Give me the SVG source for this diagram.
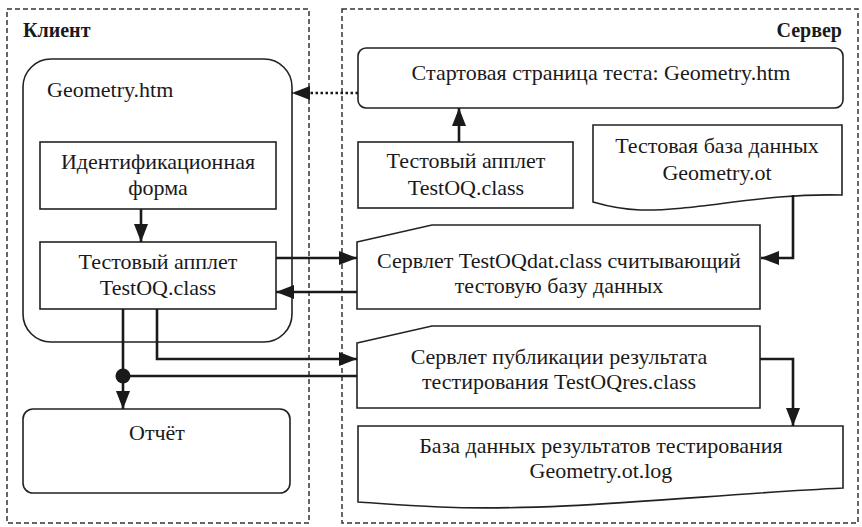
<svg xmlns="http://www.w3.org/2000/svg" width="862" height="527" viewBox="0 0 862 527" font-family="Liberation Serif, serif">
<style>
.area{fill:none;stroke:#333;stroke-width:1.5;stroke-dasharray:5,3}
.box{fill:#fff;stroke:#222;stroke-width:1.6}
.t{font-size:22px;fill:#1a1a1a;text-anchor:middle}
.s{text-anchor:start}
.h{font-size:20px;font-weight:bold;fill:#1a1a1a}
.e{text-anchor:end}
.c{fill:none;stroke:#1a1a1a;stroke-width:2.6}
</style>
<defs>
<marker id="ah" markerUnits="userSpaceOnUse" markerWidth="18" markerHeight="14" refX="18" refY="7" orient="auto">
<path d="M0,0 L18,7 L0,14 z" fill="#1a1a1a"/>
</marker>
</defs>
<rect width="862" height="527" fill="#fff"/>
<g id="client-area">
<rect class="area" x="7" y="9" width="302" height="514"/>
<text class="h" x="23" y="37" font-family="Liberation Serif, serif">Клиент</text>
</g>
<g id="server-area">
<rect class="area" x="342" y="9" width="516" height="514"/>
<text class="h e" x="842" y="37" font-family="Liberation Serif, serif">Сервер</text>
</g>
<g id="geometry-htm">
<rect class="box" x="23" y="59" width="269" height="283" rx="28"/>
<text class="t s" x="47" y="97" font-family="Liberation Serif, serif">Geometry.htm</text>
</g>
<g id="id-form" font-family="Liberation Serif, serif">
<rect class="box" x="40" y="142" width="236" height="67"/>
<text class="t" x="158" y="169">Идентификационная</text>
<text class="t" x="158" y="195">форма</text>
</g>
<g id="client-applet" font-family="Liberation Serif, serif">
<rect class="box" x="40" y="242" width="236" height="67"/>
<text class="t" x="158" y="269">Тестовый апплет</text>
<text class="t" x="158" y="295">TestOQ.class</text>
</g>
<g id="report" font-family="Liberation Serif, serif">
<rect class="box" x="23" y="409" width="267" height="84" rx="10"/>
<text class="t" x="157" y="440">Отчёт</text>
</g>
<g id="start-page" font-family="Liberation Serif, serif">
<rect class="box" x="358" y="48" width="485" height="60" rx="8"/>
<text class="t" x="601" y="80">Стартовая страница теста: Geometry.htm</text>
</g>
<g id="server-applet" font-family="Liberation Serif, serif">
<rect class="box" x="358" y="142" width="215" height="66"/>
<text class="t" x="466" y="168">Тестовый апплет</text>
<text class="t" x="466" y="195">TestOQ.class</text>
</g>
<g id="test-db" font-family="Liberation Serif, serif">
<path class="box" d="M593,125 L842,125 L842,195 C760,193 700,211 640,210 C615,209 600,204 593,202 Z"/>
<text class="t" x="717" y="153">Тестовая база данных</text>
<text class="t" x="717" y="180">Geometry.ot</text>
</g>
<g id="servlet-dat" font-family="Liberation Serif, serif">
<path class="box" d="M357,242 L432,225 L760,225 L760,309 L357,309 Z"/>
<text class="t" x="559" y="268">Сервлет TestOQdat.class считывающий</text>
<text class="t" x="559" y="293">тестовую базу данных</text>
</g>
<g id="servlet-res" font-family="Liberation Serif, serif">
<path class="box" d="M357,343 L432,326 L760,326 L760,408 L357,408 Z"/>
<text class="t" x="559" y="364">Сервлет публикации результата</text>
<text class="t" x="559" y="389">тестирования TestOQres.class</text>
</g>
<g id="result-db" font-family="Liberation Serif, serif">
<path class="box" d="M358,426 L843,426 L843,488 C700,495 560,512 440,507 C400,505 375,503 358,502 Z"/>
<text class="t" x="601" y="453">База данных результатов тестирования</text>
<text class="t" x="601" y="478">Geometry.ot.log</text>
</g>
<g id="connectors">
<path class="c" d="M358,93 L292,93" stroke-dasharray="2.5,2.5" marker-end="url(#ah)"/>
<path class="c" d="M459,142 L459,108" marker-end="url(#ah)"/>
<path class="c" d="M141,209 L141,242" marker-end="url(#ah)"/>
<path class="c" d="M793,195 L793,258 L761,258" marker-end="url(#ah)"/>
<path class="c" d="M276,258 L357,258" marker-end="url(#ah)"/>
<path class="c" d="M357,292 L276,292" marker-end="url(#ah)"/>
<path class="c" d="M157,309 L157,359 L357,359" marker-end="url(#ah)"/>
<path class="c" d="M357,376 L123,376"/>
<path class="c" d="M123,309 L123,409" marker-end="url(#ah)"/>
<circle cx="123" cy="376" r="7.5" fill="#1a1a1a"/>
<path class="c" d="M760,359 L793,359 L793,426" marker-end="url(#ah)"/>
</g>
</svg>
